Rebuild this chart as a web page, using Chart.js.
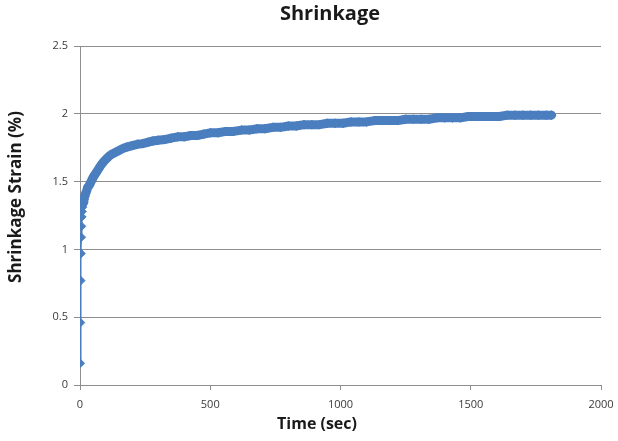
<!DOCTYPE html>
<html>
<head>
<meta charset="utf-8">
<script src="https://cdn.jsdelivr.net/npm/chart.js@4.4.0/dist/chart.umd.min.js"></script>
<style>
  html, body { margin: 0; padding: 0; background: #fff; }
  #c { display: block; }
</style>
</head>
<body>
<canvas id="c" width="618" height="441"></canvas>
<script>
// time (sec) and shrinkage strain (%)
var tiempo = [0, 1, 2, 3, 4, 5, 6, 7, 8, 9,
  10, 12, 15, 18, 21, 25, 30, 35, 40, 45, 50, 60, 70, 80, 90, 100, 110, 120, 135, 150, 165, 180,
  200, 220, 240, 260, 280, 300, 325, 350, 375, 400, 425, 450, 475, 500, 530, 560, 590, 620, 650,
  680, 710, 740, 770, 800, 830, 860, 890, 920, 950, 980, 1010, 1040, 1070, 1100, 1130, 1160,
  1190, 1220, 1250, 1280, 1310, 1340, 1370, 1400, 1430, 1460, 1490, 1520, 1550, 1580, 1610,
  1640, 1670, 1700, 1730, 1760, 1790, 1810];
var strain = [0.16, 0.46, 0.77, 0.97, 1.09, 1.17, 1.24, 1.28, 1.31, 1.33,
  1.34, 1.35, 1.37, 1.39, 1.41, 1.43, 1.46, 1.47, 1.49, 1.51, 1.53, 1.56, 1.59, 1.62, 1.645, 1.665, 1.685, 1.70, 1.715, 1.73, 1.745, 1.755,
  1.765, 1.775, 1.78, 1.79, 1.80, 1.805, 1.81, 1.82, 1.83, 1.83, 1.84, 1.84, 1.85, 1.86, 1.86, 1.87, 1.87, 1.88, 1.88,
  1.89, 1.89, 1.90, 1.90, 1.91, 1.91, 1.92, 1.92, 1.92, 1.93, 1.93, 1.93, 1.94, 1.94, 1.94, 1.95, 1.95,
  1.95, 1.95, 1.96, 1.96, 1.96, 1.96, 1.97, 1.97, 1.97, 1.97, 1.98, 1.98, 1.98, 1.98, 1.98,
  1.99, 1.99, 1.99, 1.99, 1.99, 1.99, 1.99];
var xTicks = [0, 500, 1000, 1500, 2000];
var yTicks = [0, 0.5, 1, 1.5, 2, 2.5];

var puntos = [];
for (var i = 0; i < tiempo.length; i++) {
  puntos.push({ x: tiempo[i], y: strain[i] });
}

var AZUL = '#4a7ebf';
var GRIS = '#8e8e8e';
var TEXTO = '#1a1a1a';
var fuente = "'Open Sans', 'Liberation Sans', sans-serif";

// chart title and axis titles sit where the spreadsheet put them, not centred on the plot
var titulos = {
  id: 'titulos',
  afterDraw: function(chart) {
    var c = chart.ctx;
    c.save();
    c.fillStyle = TEXTO;
    c.textAlign = 'center';
    c.textBaseline = 'middle';
    c.font = 'bold 20px ' + fuente;
    c.fillText('Shrinkage', 330, 14);
    c.font = 'bold 16px ' + fuente;
    c.fillText('Time (sec)', 317, 424);
    c.translate(16, 197);
    c.rotate(-Math.PI / 2);
    c.font = 'bold 17px ' + fuente;
    c.fillText('Shrinkage Strain (%)', 0, 0);
    c.restore();
  }
};

var ctx = document.getElementById('c').getContext('2d');
var grafica = new Chart(ctx, {
  type: 'line',
  data: {
    datasets: [{
      data: puntos,
      borderColor: AZUL,
      backgroundColor: AZUL,
      borderWidth: 2,
      borderJoinStyle: 'round',
      borderCapStyle: 'round',
      pointStyle: 'rectRot',
      pointRadius: 4.5,
      pointBorderWidth: 1,
      tension: 0,
      // the dense part of the record reads as a thick band of markers
      segment: {
        borderWidth: function(c) { return c.p0.parsed.x >= 9 ? 9 : 2; }
      }
    }]
  },
  plugins: [titulos],
  options: {
    responsive: false,
    animation: false,
    layout: { padding: { left: 6, right: 17, top: 46, bottom: 0 } },
    plugins: {
      legend: { display: false },
      tooltip: { enabled: false },
      title: { display: false }
    },
    scales: {
      x: {
        type: 'linear',
        min: 0,
        max: 2000,
        afterBuildTicks: function(scale) {
          scale.ticks = xTicks.map(function(v) { return { value: v }; });
        },
        afterFit: function(scale) {
          scale.height = 56;
          scale.paddingLeft = 0;
          scale.paddingRight = 0;
        },
        border: { color: GRIS, width: 1 },
        grid: { drawOnChartArea: false, drawTicks: true, tickLength: 5, color: GRIS },
        ticks: {
          color: '#3a3a3a', font: { family: fuente, size: 11 }, padding: 8, maxRotation: 0,
          callback: function(v) { return String(v); }
        }
      },
      y: {
        min: 0,
        max: 2.5,
        afterBuildTicks: function(scale) {
          scale.ticks = yTicks.map(function(v) { return { value: v }; });
        },
        afterFit: function(scale) { scale.width = 74; },
        border: { color: GRIS, width: 1 },
        grid: { color: GRIS, lineWidth: 1, tickLength: 6 },
        ticks: {
          color: '#3a3a3a', font: { family: fuente, size: 11 }, padding: 6,
          callback: function(v) { return String(v); }
        }
      }
    }
  }
});
</script>
</body>
</html>
